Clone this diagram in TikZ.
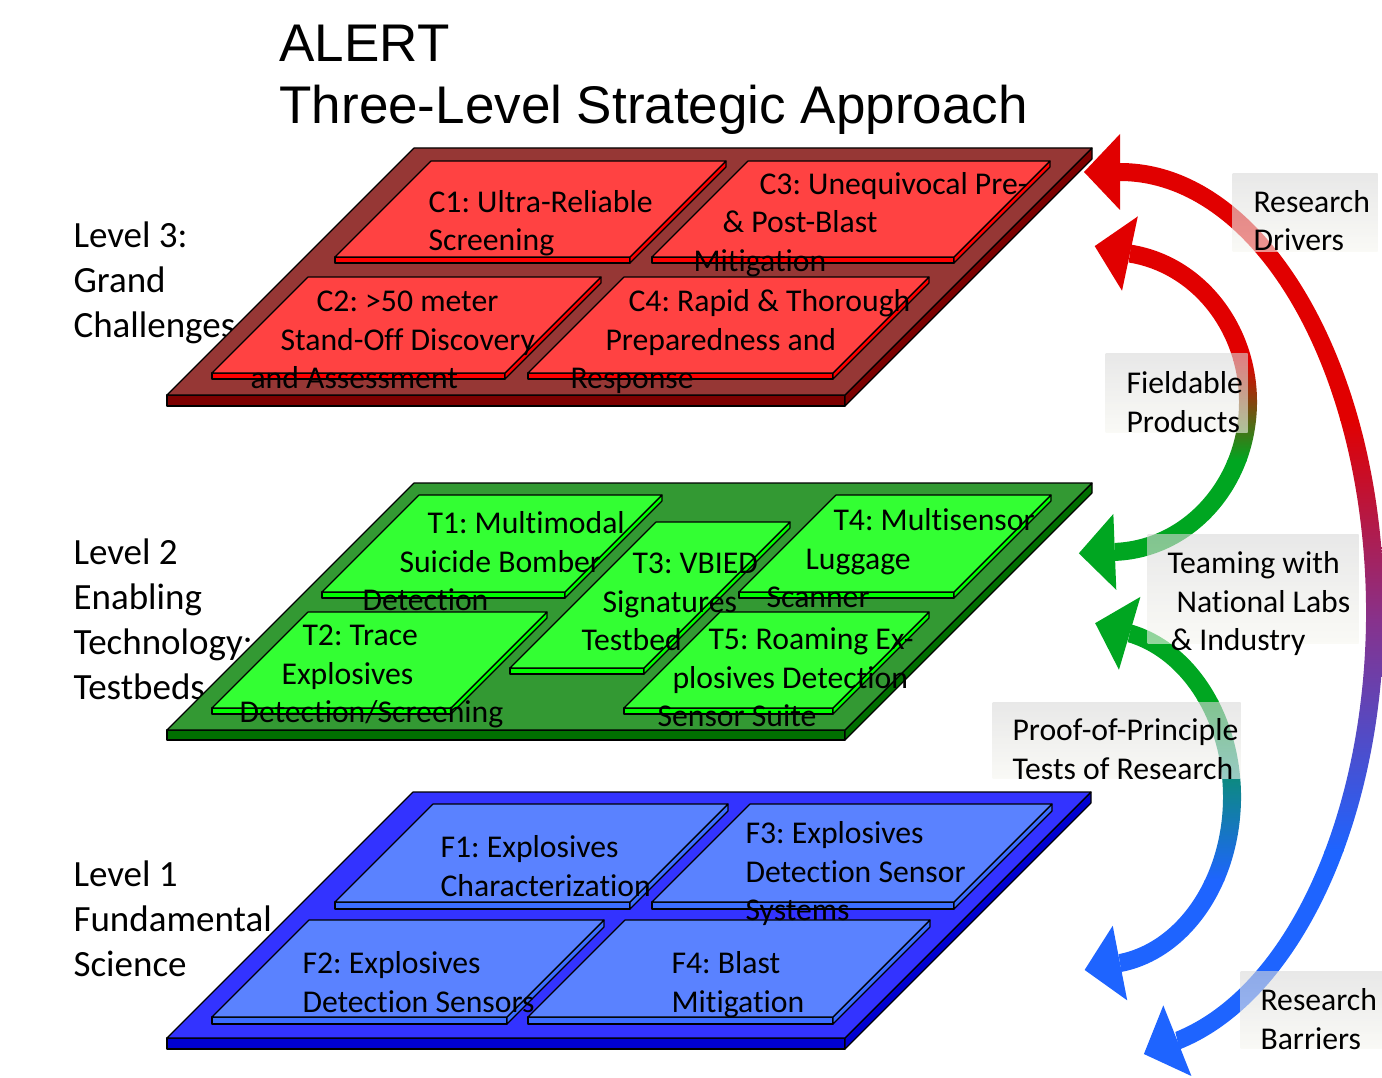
\documentclass[tikz,border=0pt]{standalone}
\usepackage{fontspec}
\setmainfont{Carlito}[Ligatures=NoCommon]
\newfontfamily\titlefont{Liberation Sans}
\usetikzlibrary{calc}
\frenchspacing

\definecolor{slabred}{RGB}{150,55,53}
\definecolor{slabredside}{RGB}{125,0,0}
\definecolor{tilered}{RGB}{255,66,66}
\definecolor{tileredside}{RGB}{255,0,0}
\definecolor{slabgreen}{RGB}{51,153,51}
\definecolor{slabgreenside}{RGB}{0,110,0}
\definecolor{tilegreen}{RGB}{51,255,51}
\definecolor{tilegreenside}{RGB}{0,255,0}
\definecolor{slabblue}{RGB}{51,51,255}
\definecolor{slabblueside}{RGB}{0,0,210}
\definecolor{tileblue}{RGB}{90,130,255}
\definecolor{tileblueside}{RGB}{60,110,255}
\definecolor{arrowred}{RGB}{225,0,0}
\definecolor{arrowpurple}{RGB}{135,50,140}
\definecolor{arrowgreen}{RGB}{0,166,33}
\definecolor{arrowblue}{RGB}{30,100,255}
\definecolor{boxtop}{RGB}{217,217,217}
\definecolor{boxbottom}{RGB}{246,246,240}

% slab: front-left corner x, y, width, depth, thickness, top colour, side colour
\newcommand\slab[7]{%
  \filldraw[fill=#7] (#1,#2) -- (#1+#3,#2) -- (#1+#3,#2+#5) -- (#1,#2+#5) -- cycle;
  \filldraw[fill=#7] (#1+#3,#2) -- (#1+#3+#4,#2-#4) -- (#1+#3+#4,#2-#4+#5) -- (#1+#3,#2+#5) -- cycle;
  \filldraw[fill=#6] (#1,#2) -- (#1+#3,#2) -- (#1+#3+#4,#2-#4) -- (#1+#4,#2-#4) -- cycle;}
% arrow head: base point, direction, colour
\newcommand\arrowhead[3]{%
  \fill[#3] ($(#1)+(#2:36)$) -- ($(#1)+(#2+90:38)$) -- ($(#1)+(#2-90:38)$) -- cycle;}

\begin{document}
\begin{tikzpicture}[x=1pt,y=-1pt,line width=1.1pt,line join=round,
    tiletext/.style={anchor=north west,inner sep=0pt,align=left,font=\fontsize{31.7}{38.5}\selectfont},
    leveltext/.style={anchor=north west,inner sep=0pt,align=left,font=\fontsize{37}{45}\selectfont},
    notebox/.style={anchor=north west,inner sep=0pt,shade,top color=boxtop,bottom color=boxbottom,opacity=.6}]
  \useasboundingbox (0,0) rectangle (1382,1078);

  \node[anchor=north west,inner sep=0pt,align=left,font=\titlefont\fontsize{53}{62}\selectfont]
    (title) at (279,61-43.4) {\strut ALERT\\Three-Level Strategic Approach};

  % level names, the slabs cover their ends
  \node[leveltext] (lev3) at (73,247-31.5) {\strut Level 3:\\Grand\\Challenges};
  \node[leveltext] (lev2) at (73,564-31.5) {\strut Level 2\\Enabling\\Technology:\\Testbeds};
  \node[leveltext] (lev1) at (73,886-31.5) {\strut Level 1\\Fundamental\\Science};

  % slabs
  \slab{167}{395}{678}{247}{11}{slabred}{slabredside}
  \slab{167}{730}{678}{247}{10}{slabgreen}{slabgreenside}
  \slab{167}{1038}{678}{246}{11}{slabblue}{slabblueside}

  % grand challenges
  \slab{335}{257}{295}{96}{6}{tilered}{tileredside}
  \slab{652}{257}{302}{96}{6}{tilered}{tileredside}
  \slab{212}{373}{293}{96}{6}{tilered}{tileredside}
  \slab{528}{373}{305}{96}{6}{tilered}{tileredside}
  % testbeds
  \slab{322}{592}{243}{97}{6}{tilegreen}{tilegreenside}
  \slab{212}{708}{239}{96}{6}{tilegreen}{tilegreenside}
  \slab{510}{668}{134}{146}{6}{tilegreen}{tilegreenside}
  \slab{739}{592}{215}{97}{6}{tilegreen}{tilegreenside}
  \slab{624}{708}{209}{96}{6}{tilegreen}{tilegreenside}
  % fundamental science
  \slab{335}{902}{295}{98}{7}{tileblue}{tileblueside}
  \slab{652}{902}{302}{98}{7}{tileblue}{tileblueside}
  \slab{212}{1017}{295}{97}{7}{tileblue}{tileblueside}
  \slab{528}{1017}{305}{97}{7}{tileblue}{tileblueside}

  \node[tiletext] (c1) at (428,212-27) {\strut C1: Ultra-Reliable\\Screening};
  \node[tiletext] (c3) at (693,194-27) {\strut\hspace*{66pt}C3: Unequivocal Pre-\\\hspace*{29pt}\& Post-Blast\\Mitigation};
  \node[tiletext] (c2) at (250,311-27) {\strut\hspace*{66pt}C2: >50 meter\\\hspace*{30pt}Stand-Off Discovery\\and Assessment};
  \node[tiletext] (c4) at (570,311-27) {\strut\hspace*{58pt}C4: Rapid \& Thorough\\\hspace*{35pt}Preparedness and\\Response};
  \node[tiletext] (t1) at (362,533-27) {\strut\hspace*{65pt}T1: Multimodal\\\hspace*{37pt}Suicide Bomber\\Detection};
  \node[tiletext] (t3) at (581,573-27) {\strut\hspace*{51pt}T3: VBIED\\\hspace*{21pt}Signatures\\Testbed};
  \node[tiletext] (t4) at (766,530-27) {\strut\hspace*{67pt}T4: Multisensor\\\hspace*{39pt}Luggage\\Scanner};
  \node[tiletext] (t2) at (239,645-27) {\strut\hspace*{63pt}T2: Trace\\\hspace*{42pt}Explosives\\Detection/Screening};
  \node[tiletext] (t5) at (657,649-27) {\strut\hspace*{51pt}T5: Roaming Ex-\\\hspace*{15pt}plosives Detection\\Sensor Suite};
  \node[tiletext] (f1) at (440,857-27) {\strut F1: Explosives\\Characterization};
  \node[tiletext] (f3) at (745,843-27) {\strut F3: Explosives\\Detection Sensor\\Systems};
  \node[tiletext] (f2) at (302,973-27) {\strut F2: Explosives\\Detection Sensors};
  \node[tiletext] (f4) at (671,973-27) {\strut F4: Blast\\Mitigation};

  % outer arrow: barriers up to drivers
  \coordinate (oc) at (1120,612);
  \begin{scope}
    \clip ($(oc)+(-90:264 and 449)$) arc[start angle=-90,end angle=77,x radius=264,y radius=449]
      -- ($(oc)+(77:246 and 431)$) arc[start angle=77,end angle=-90,x radius=246,y radius=431] -- cycle;
    \fill[arrowred] (1080,150) rectangle (1390,421);
    \shade[top color=arrowred,bottom color=arrowpurple] (1080,420) rectangle (1390,621);
    \shade[top color=arrowpurple,bottom color=arrowblue] (1080,620) rectangle (1390,851);
    \fill[arrowblue] (1080,850) rectangle (1390,1070);
  \end{scope}
  \coordinate (otop) at ($(oc)+(-90:255 and 440)$);
  \coordinate (obot) at ($(oc)+(77:255 and 440)$);
  \arrowhead{otop}{180}{arrowred}
  \arrowhead{obot}{158.3}{arrowblue}

  % fieldable products: level 2 up to level 3
  \coordinate (uc) at (1110,402);
  \begin{scope}
    \clip ($(uc)+(-81.7:147 and 159)$) arc[start angle=-81.7,end angle=88,x radius=147,y radius=159]
      -- ($(uc)+(88:129 and 141)$) arc[start angle=88,end angle=-81.7,x radius=129,y radius=141] -- cycle;
    \fill[arrowred] (1080,220) rectangle (1270,361);
    \shade[top color=arrowred,bottom color=arrowgreen] (1080,360) rectangle (1270,461);
    \fill[arrowgreen] (1080,460) rectangle (1270,580);
  \end{scope}
  \coordinate (utop) at ($(uc)+(-81.7:138 and 150)$);
  \coordinate (ubot) at ($(uc)+(88:138 and 150)$);
  \arrowhead{utop}{192}{arrowred}
  \arrowhead{ubot}{177.8}{arrowgreen}

  % proof of principle: level 1 up to level 2
  \coordinate (lc) at (1100,797);
  \begin{scope}
    \clip ($(lc)+(-77:141 and 177)$) arc[start angle=-77,end angle=81.3,x radius=141,y radius=177]
      -- ($(lc)+(81.3:123 and 159)$) arc[start angle=81.3,end angle=-77,x radius=123,y radius=159] -- cycle;
    \fill[arrowgreen] (1080,600) rectangle (1260,701);
    \shade[top color=arrowgreen,bottom color=arrowblue] (1080,700) rectangle (1260,881);
    \fill[arrowblue] (1080,880) rectangle (1260,1000);
  \end{scope}
  \coordinate (ltop) at ($(lc)+(-77:132 and 168)$);
  \coordinate (lbot) at ($(lc)+(81.3:132 and 168)$);
  \arrowhead{ltop}{196.4}{arrowgreen}
  \arrowhead{lbot}{169}{arrowblue}

  % notes beside the arrows
  \node[notebox,minimum width=145pt,minimum height=78pt] (drvbox) at (1232,173) {};
  \node[notebox,minimum width=142pt,minimum height=79pt] (fldbox) at (1105,353) {};
  \node[notebox,minimum width=211pt,minimum height=109pt] (teambox) at (1147,534) {};
  \node[notebox,minimum width=248pt,minimum height=76pt] (proofbox) at (992,702) {};
  \node[notebox,minimum width=142pt,minimum height=77pt] (barbox) at (1240,971) {};
  \node[tiletext] (drv) at (1253,212-27) {\strut Research\\Drivers};
  \node[tiletext] (fld) at (1126,393-27) {\strut Fieldable\\Products};
  \node[tiletext] (team) at (1167,573-27) {\strut Teaming with\\\hspace*{9pt}National Labs\\\hspace*{3pt}\& Industry};
  \node[tiletext] (proof) at (1012,740-27) {\strut Proof-of-Principle\\Tests of Research};
  \node[tiletext] (bar) at (1260,1010-27) {\strut Research\\Barriers};
\end{tikzpicture}
\end{document}
